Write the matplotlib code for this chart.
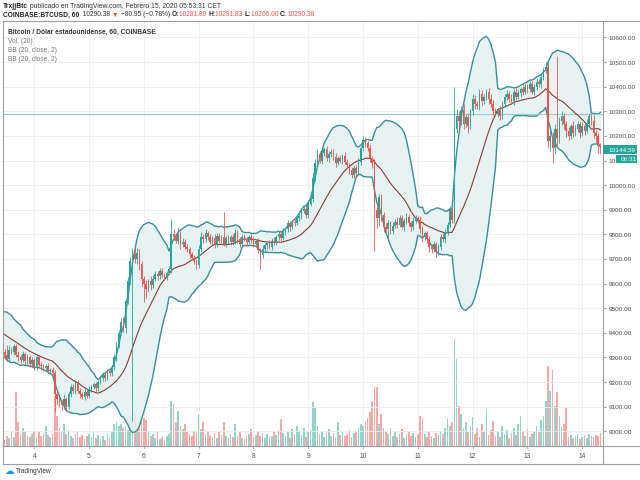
import numpy as np
import pandas as pd
import matplotlib
matplotlib.use("Agg")
import matplotlib.pyplot as plt
from matplotlib.transforms import blended_transform_factory
from matplotlib.patches import Rectangle
from matplotlib.lines import Line2D

plt.rcParams['font.family'] = ['Liberation Sans', 'DejaVu Sans']

# ---------------- data (hourly BTCUSD, Coinbase) ----------------
pre_close = [9430, 9440, 9450, 9440, 9460, 9440, 9430, 9420, 9440, 9410,
             9400, 9400, 9380, 9370, 9380, 9360, 9350, 9340, 9330, 9320]

close = [9310, 9295, 9330, 9320, 9345, 9310, 9300, 9290, 9315, 9285,
         9300, 9275, 9290, 9260, 9300, 9270, 9265, 9255, 9265, 9245,
         9250, 9235, 9150, 9130, 9120, 9105, 9130, 9100, 9150, 9180,
         9165, 9195, 9165, 9150, 9140, 9160, 9145, 9170, 9180, 9190,
         9175, 9200, 9215, 9230, 9215, 9245, 9235, 9260, 9300, 9350,
         9400, 9445, 9420, 9530, 9610, 9690, 9720, 9700, 9725, 9680,
         9620, 9600, 9580, 9610, 9595, 9620, 9640, 9630, 9650, 9635,
         9625, 9645, 9660, 9800, 9790, 9775, 9800, 9760, 9770, 9750,
         9740, 9720, 9705, 9690, 9675, 9740, 9790, 9780, 9805, 9790,
         9770, 9785, 9760, 9795, 9775, 9790, 9760, 9785, 9770, 9790,
         9770, 9805, 9780, 9760, 9790, 9780, 9770, 9790, 9780, 9760,
         9775, 9735, 9715, 9740, 9755, 9765, 9750, 9775, 9765, 9790,
         9800, 9785, 9810, 9820, 9845, 9830, 9850, 9845, 9865, 9875,
         9895, 9905, 9880, 9925, 9945, 10030, 10090, 10125, 10100, 10130,
         10145, 10110, 10125, 10135, 10115, 10090, 10110, 10100, 10120, 10095,
         10080, 10060, 10040, 10070, 10050, 10095, 10150, 10185, 10170, 10150,
         10110, 10090, 9900, 9865, 9950, 9880, 9830, 9820, 9845, 9815,
         9835, 9850, 9840, 9865, 9830, 9855, 9870, 9845, 9830, 9855,
         9865, 9860, 9820, 9790, 9805, 9780, 9750, 9740, 9760, 9730,
         9750, 9790, 9780, 9810, 9840, 9900, 9860, 10230, 10280, 10260,
         10305, 10250, 10275, 10240, 10300, 10350, 10330, 10320, 10370, 10340,
         10360, 10380, 10350, 10330, 10300, 10290, 10305, 10280, 10330, 10360,
         10370, 10350, 10340, 10380, 10360, 10375, 10390, 10380, 10400, 10390,
         10410, 10380, 10400, 10420, 10410, 10440, 10465, 10480, 10180, 10200,
         10150, 10230, 10190, 10260, 10280, 10250, 10220, 10200, 10240, 10210,
         10230, 10250, 10210, 10240, 10220, 10250, 10280, 10260, 10210, 10200,
         10160, 10145]

wick_up = [15, 40, 20, 12, 10, 8, 15, 10, 12, 8,
           14, 10, 12, 8, 15, 10, 12, 8, 10, 12,
           8, 10, 12, 10, 15, 8, 20, 10, 15, 12,
           10, 8, 12, 10, 8, 15, 10, 12, 8, 10,
           12, 10, 8, 12, 10, 8, 12, 10, 15, 12,
           10, 15, 20, 12, 15, 20, 25, 30, 20, 15,
           10, 12, 15, 10, 20, 15, 12, 10, 15, 12,
           10, 8, 12, 62, 20, 15, 25, 12, 15, 10,
           12, 10, 8, 12, 10, 15, 20, 12, 15, 10,
           12, 8, 15, 10, 12, 8, 100, 10, 12, 8,
           10, 15, 12, 8, 10, 12, 10, 8, 12, 10,
           8, 12, 10, 15, 10, 8, 12, 10, 15, 8,
           12, 10, 15, 8, 12, 10, 8, 12, 15, 10,
           12, 10, 15, 12, 20, 25, 15, 20, 12, 15,
           10, 15, 12, 10, 12, 15, 10, 12, 8, 15,
           10, 12, 15, 10, 12, 15, 10, 15, 12, 10,
           12, 10, 15, 20, 15, 12, 10, 15, 12, 10,
           15, 12, 20, 15, 12, 10, 15, 12, 10, 15,
           12, 10, 15, 12, 10, 8, 12, 10, 15, 10,
           12, 10, 15, 12, 10, 15, 12, 170, 30, 20,
           15, 25, 15, 20, 10, 20, 15, 12, 20, 15,
           12, 10, 15, 20, 15, 12, 10, 15, 12, 10,
           15, 12, 20, 10, 15, 12, 10, 15, 12, 10,
           15, 12, 10, 15, 12, 10, 15, 20, 20, 25,
           15, 20, 295, 15, 20, 15, 12, 15, 10, 20,
           15, 12, 10, 15, 12, 20, 15, 10, 25, 15,
           12, 10]

wick_down = [12, 10, 15, 8, 12, 10, 15, 12, 10, 15,
             10, 12, 15, 10, 12, 8, 15, 10, 12, 8,
             10, 12, 70, 25, 20, 20, 15, 15, 10, 12,
             10, 12, 8, 15, 10, 12, 8, 10, 12, 8,
             10, 12, 8, 10, 12, 8, 10, 12, 10, 15,
             12, 10, 15, 20, 15, 12, 650, 15, 20, 25,
             30, 75, 40, 15, 20, 12, 10, 15, 12, 10,
             12, 10, 8, 15, 12, 10, 15, 20, 12, 10,
             12, 15, 10, 12, 15, 10, 12, 15, 10, 12,
             10, 12, 15, 10, 12, 10, 8, 12, 10, 15,
             12, 10, 15, 12, 10, 8, 12, 10, 15, 12,
             10, 12, 55, 10, 12, 15, 10, 12, 8, 10,
             12, 10, 8, 12, 10, 15, 10, 12, 8, 10,
             12, 10, 15, 12, 10, 15, 12, 10, 12, 15,
             10, 12, 15, 10, 12, 15, 10, 12, 15, 10,
             12, 15, 10, 12, 15, 10, 12, 10, 15, 12,
             15, 20, 167, 40, 30, 25, 20, 15, 40, 15,
             12, 10, 15, 12, 10, 15, 12, 10, 15, 12,
             10, 12, 15, 20, 12, 15, 20, 15, 12, 20,
             15, 12, 10, 15, 12, 10, 15, 12, 20, 35,
             15, 20, 15, 30, 12, 15, 20, 12, 15, 20,
             12, 15, 20, 12, 15, 10, 12, 15, 10, 12,
             15, 12, 10, 15, 12, 10, 15, 12, 10, 15,
             12, 10, 15, 12, 10, 15, 12, 10, 30, 40,
             60, 25, 40, 20, 15, 20, 25, 15, 12, 15,
             12, 15, 20, 12, 15, 10, 12, 15, 20, 25,
             30, 20]

volume = [6, 10, 8, 14, 9, 54, 24, 12, 18, 14,
          10, 9, 12, 15, 8, 14, 10, 12, 20, 11,
          9, 12, 50, 30, 18, 14, 22, 12, 16, 10,
          8, 12, 14, 9, 11, 7, 10, 12, 9, 14,
          8, 11, 7, 10, 6, 12, 8, 14, 22, 24,
          20, 22, 18, 20, 16, 30, 28, 32, 18, 22,
          30, 28, 26, 14, 10, 12, 8, 14, 7, 9,
          6, 10, 12, 45, 42, 24, 35, 20, 17, 22,
          14, 12, 10, 15, 14, 32, 17, 24, 12, 15,
          10, 9, 13, 8, 14, 11, 24, 10, 8, 12,
          9, 22, 10, 14, 8, 7, 10, 12, 17, 9,
          11, 14, 10, 13, 8, 12, 9, 10, 14, 11,
          16, 27, 13, 10, 14, 8, 17, 12, 20, 15,
          11, 18, 9, 14, 16, 44, 39, 20, 12, 15,
          9, 14, 17, 10, 13, 8, 24, 11, 14, 10,
          12, 16, 9, 13, 15, 18, 22, 20, 24, 28,
          34, 45, 60, 59, 22, 32, 18, 14, 12, 18,
          10, 15, 9, 12, 17, 8, 11, 14, 10, 13,
          9, 12, 30, 28, 12, 9, 14, 10, 8, 13,
          11, 15, 12, 18, 27, 20, 24, 107, 87, 40,
          32, 18, 24, 14, 20, 29, 12, 18, 9, 22,
          14, 37, 11, 16, 25, 10, 14, 9, 20, 12,
          16, 8, 13, 18, 11, 22, 30, 14, 10, 17,
          9, 12, 15, 20, 14, 26, 30, 45, 80, 55,
          76, 40, 54, 30, 19, 22, 38, 9, 11, 8,
          10, 12, 7, 9, 11, 8, 12, 10, 9, 11,
          10, 13]

day_labels = ['4', '5', '6', '7', '8', '9', '10', '11', '12', '13', '14']
first_day_index = 13          # candle index of Feb 4 00:00
price_ticks = [9000, 9100, 9200, 9300, 9400, 9500, 9600, 9700, 9800, 9900,
               10000, 10100, 10200, 10300, 10400, 10500, 10600]
last_price = 10144.59
ref_line_price = 10290.38
countdown = '06:31'

# ---------------- derived ----------------
assert len(close) == len(wick_up) == len(wick_down) == len(volume)
n = len(close)
idx = np.arange(n)
c = np.array(close, float)
o = np.array([pre_close[-1]] + close[:-1], float)
up = c >= o
bh = np.maximum(o, c)
bl = np.minimum(o, c)
hi = bh + np.array(wick_up)
lo = bl - np.array(wick_down)

allc = pd.Series(pre_close + close, dtype=float)
mid = allc.rolling(20).mean()
sd = allc.rolling(20).std(ddof=0)
xs = np.arange(len(allc)) - len(pre_close)
m = xs >= -1
ub = (mid + 2 * sd)[m].values
lb = (mid - 2 * sd)[m].values
mb = mid[m].values
xb = xs[m]

UP = '#26a69a'
DN = '#ef5350'

# ---------------- figure ----------------
W, H = 640, 481
fig = plt.figure(figsize=(6.4, 4.81), dpi=100)
fig.patch.set_facecolor('white')

def fx(px):
    return px / W

def fy(py):
    return 1 - py / H

L, R, T, B = 3, 603, 22, 447
axv = fig.add_axes([fx(L), fy(B), fx(R - L), (B - T) / H])
ax = fig.add_axes([fx(L), fy(B), fx(R - L), (B - T) / H], sharex=axv)
ax.patch.set_visible(False)

ymin, ymax = 8940, 10667
xmin, xmax = -0.7, 262.1
ax.set_xlim(xmin, xmax)
ax.set_ylim(ymin, ymax)

# grid
day_pos = [first_day_index + 24 * i for i in range(len(day_labels))]
for xp in day_pos:
    axv.axvline(xp, color='#ececec', lw=0.6, zorder=0)
for p in price_ticks:
    ax.axhline(p, color='#ececec', lw=0.6, zorder=0)

# volume
axv.set_ylim(0, (B - T))
vcols = np.where(up, '#93d3cd', '#f7a9a8')
axv.bar(idx, volume, width=0.72, color=vcols, linewidth=0, zorder=1)
axv.axis('off')

# Bollinger bands
ax.fill_between(xb, lb, ub, color='#e3f2f1', alpha=0.85, linewidth=0, zorder=1)
ax.plot(xb, ub, color='#3a8e99', lw=1.0, zorder=2)
ax.plot(xb, lb, color='#3a8e99', lw=1.0, zorder=2)
ax.plot(xb, mb, color='#8b3a34', lw=0.8, zorder=3)

# last-price reference line
ax.axhline(ref_line_price, color='#8fd3cc', lw=0.8, zorder=2)

# candles
ccols = np.where(up, UP, DN)
ax.vlines(idx, lo, hi, colors=ccols, lw=0.6, zorder=4)
ax.bar(idx, np.maximum(bh - bl, 2), bottom=bl, width=0.7, color=ccols,
       linewidth=0, zorder=5)

for s in ax.spines.values():
    s.set_visible(False)
ax.set_xticks([])
ax.set_yticks([])

# ---------------- frame & axes ----------------
fc = '#9a9ea6'
def fline(x0, y0, x1, y1, color=fc, lw=0.8):
    fig.add_artist(Line2D([fx(x0), fx(x1)], [fy(y0), fy(y1)], color=color, lw=lw))

fline(L, T, W, T)
fline(L, T, L, 465)
fline(L, B, W, B)
fline(L, 465, W, 465)
fline(R, T, R, 465)

# price axis labels
tr = blended_transform_factory(fig.transFigure, ax.transData)
for p in price_ticks:
    fig.add_artist(Line2D([fx(R), fx(R + 3)], [p, p], transform=tr, color=fc, lw=0.6))
    fig.text(fx(R + 5.5), p, f'{p:.2f}', transform=tr, fontsize=4.6,
             color='#4a4a4a', va='center', ha='left')

# date labels
trx = blended_transform_factory(ax.transData, fig.transFigure)
for xp, lab in zip(day_pos, day_labels):
    fig.add_artist(Line2D([xp, xp], [fy(B), fy(B + 2)], transform=trx, color=fc, lw=0.6))
    fig.text(xp, fy(457), lab, transform=trx, fontsize=4.8, color='#4a4a4a',
             ha='center', va='center')

# last price and countdown boxes
hpx = (ymax - ymin) / (B - T)
fig.add_artist(Rectangle((fx(R), last_price - 4.5 * hpx), fx(W - 3 - R), 9 * hpx,
                         transform=tr, facecolor=UP, edgecolor='none', zorder=10))
fig.text(fx(R + 5), last_price, f'{last_price:.2f}', transform=tr, fontsize=4.6,
         color='white', va='center', ha='left', zorder=11)
fig.add_artist(Rectangle((fx(616), last_price - 13 * hpx), fx(W - 3 - 616), 8 * hpx,
                         transform=tr, facecolor=UP, edgecolor='none', zorder=10))
fig.text(fx(621), last_price - 9 * hpx, countdown, transform=tr, fontsize=4.6,
         color='white', va='center', ha='left', zorder=11)

# ---------------- header texts ----------------
renderer = fig.canvas.get_renderer()

def seq(x0, ypx, parts, size=4.8):
    x = fx(x0)
    for txt, color, weight in parts:
        t = fig.text(x, fy(ypx), txt, fontsize=size, color=color, weight=weight,
                     va='center', ha='left')
        bb = t.get_window_extent(renderer)
        x += bb.width / fig.bbox.width

seq(3, 6, [('TrxjjBtc', '#222222', 'bold'),
           (' publicado en TradingView.com, Febrero 15, 2020 05:53:31 CET', '#333333', 'normal')],
    size=4.9)
seq(3, 15, [('COINBASE:BTCUSD, 60', '#222222', 'bold'),
            ('  10290.38 ', '#333333', 'normal'),
            ('▼', DN, 'normal'),
            (' \u221280.95 (\u22120.78%) ', '#333333', 'normal'),
            ('O:', '#222222', 'bold'), ('10281.89 ', DN, 'normal'),
            ('H:', '#222222', 'bold'), ('10291.83 ', DN, 'normal'),
            ('L:', '#222222', 'bold'), ('10266.00 ', DN, 'normal'),
            ('C:', '#222222', 'bold'), ('10290.38', DN, 'normal')])

fig.text(fx(8), fy(32.5), 'Bitcoin / Dólar estadounidense, 60, COINBASE', fontsize=4.8,
         color='#333333', weight='bold', va='center')
for ypx, t in [(41.5, 'Vol. (20)'), (50.5, 'BB (20, close, 2)'), (59.5, 'BB (20, close, 2)')]:
    fig.text(fx(8), fy(ypx), t, fontsize=4.8, color='#777777', va='center')

# footer logo
fig.text(fx(4), fy(471), '\u2601', fontsize=7, color='#2196f3', va='center',
         family='DejaVu Sans')
fig.text(fx(16), fy(471.5), 'TradingView', fontsize=4.7, color='#333333', va='center')

fig.savefig('out.png', dpi=100, facecolor='white')
